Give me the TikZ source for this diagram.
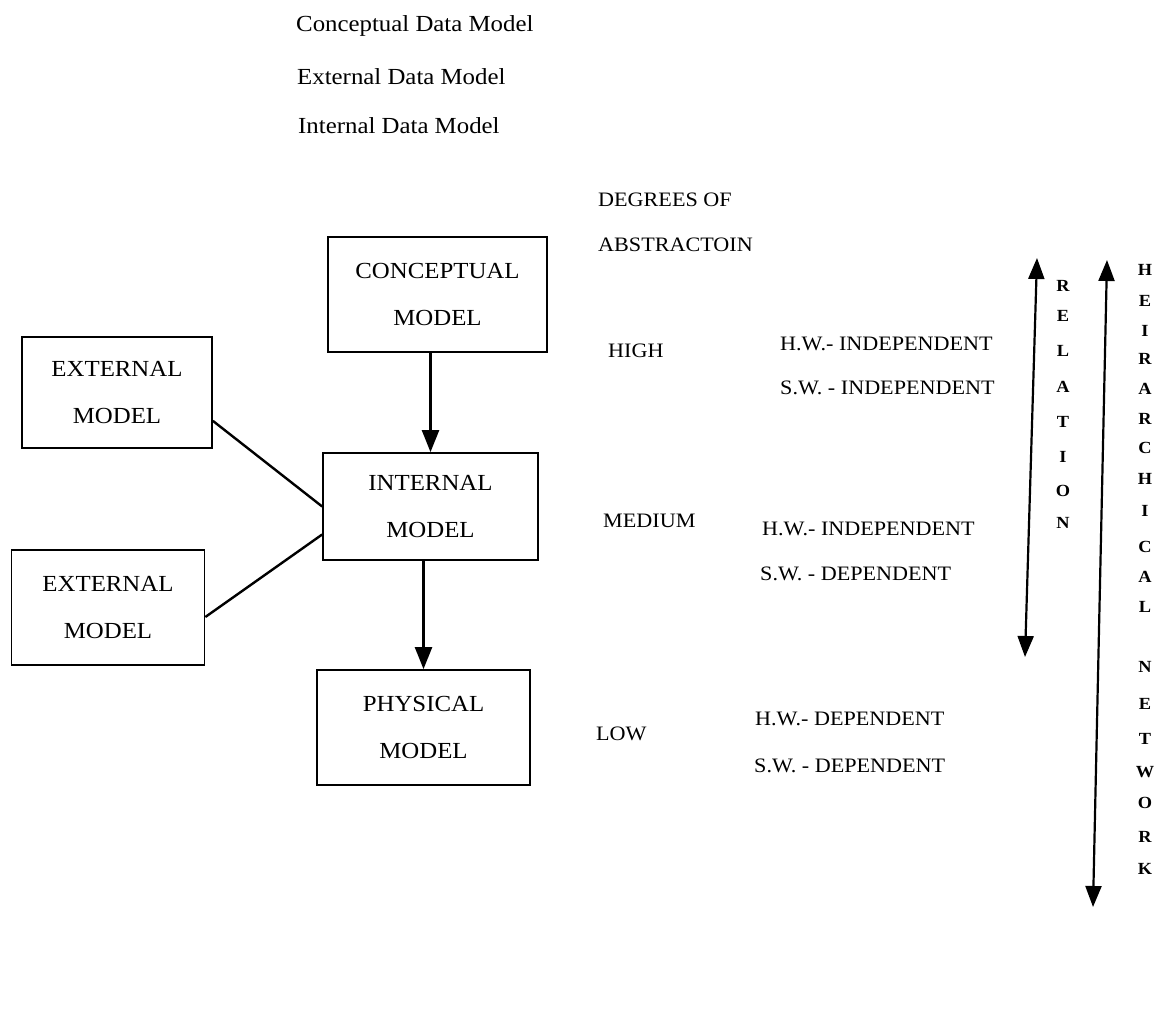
\documentclass[tikz,border=0pt]{standalone}
\usepackage{fontspec}
\setmainfont{Liberation Serif}[FakeStretch=1.08]
\usetikzlibrary{arrows.meta}
\begin{document}
\begin{tikzpicture}[x=1pt,y=-1pt,
  modelbox/.style={draw, line width=1.7pt, inner sep=0pt, align=center,
    font=\fontsize{23}{47}\selectfont},
  hdr/.style={anchor=base west, inner sep=0pt, font=\fontsize{23}{27}\selectfont},
  lbl/.style={anchor=base west, inner sep=0pt, font=\fontsize{20.5}{24}\selectfont},
  letter/.style={anchor=base, inner sep=0pt, font=\fontsize{17}{19}\selectfont\bfseries},
  conn/.style={line width=2.4pt},
  arr/.style={line width=2.2pt, -{Triangle[width=17pt,length=22pt]}},
  dbl/.style={line width=2.2pt, {Triangle[width=16pt,length=21pt]}-{Triangle[width=16pt,length=21pt]}}]
\useasboundingbox (0,0) rectangle (1159,1016);

% header lines
\node[hdr] (h1) at (296,32) {Conceptual Data Model};
\node[hdr] (h2) at (297,85) {External Data Model};
\node[hdr] (h3) at (298,134) {Internal Data Model};

% boxes
\node[modelbox, minimum width=219pt, minimum height=115pt] (conc) at (437.5,294.5) {CONCEPTUAL\\MODEL};
\node[modelbox, minimum width=215pt, minimum height=107pt] (int) at (430.5,506.5) {INTERNAL\\MODEL};
\node[modelbox, minimum width=190pt, minimum height=111pt] (e1) at (117,392.5) {EXTERNAL\\MODEL};
\node[modelbox, minimum width=193pt, minimum height=115pt] (e2) at (108,607.5) {EXTERNAL\\MODEL};
\node[modelbox, minimum width=213pt, minimum height=115pt] (phys) at (423.5,727.5) {PHYSICAL\\MODEL};

% connectors
\draw[arr] (int.north |- conc.south) -- (int.north);
\draw[arr] (phys.north |- int.south) -- (phys.north);
\draw[conn] ([yshift=28pt]e1.south east) -- (int.west);
\draw[conn] ([yshift=-9.5pt]e2.east) -- ([yshift=-28pt]int.west);

% right texts
\node[lbl] (d1) at (598,207) {DEGREES OF};
\node[lbl] (d2) at (598,252) {ABSTRACTOIN};
\node[lbl] (hi) at (608,357) {HIGH};
\node[lbl] (hi1) at (780,350) {H.W.- INDEPENDENT};
\node[lbl] (hi2) at (780,394) {S.W. - INDEPENDENT};
\node[lbl] (me) at (603,527) {MEDIUM};
\node[lbl] (me1) at (762,535) {H.W.- INDEPENDENT};
\node[lbl] (me2) at (760,580) {S.W. - DEPENDENT};
\node[lbl] (lo) at (596,740) {LOW};
\node[lbl] (lo1) at (755,725) {H.W.- DEPENDENT};
\node[lbl] (lo2) at (754,772) {S.W. - DEPENDENT};

% vertical arrows
\coordinate (rtop) at (1037,258);
\coordinate (rbot) at (1025,657);
\coordinate (htop) at (1107,260);
\coordinate (hbot) at (1093,907);
\draw[dbl] (rbot) -- (rtop);
\draw[dbl] (hbot) -- (htop);

% RELATION letters
\foreach \ch/\yy [count=\i] in {R/292,E/322,L/356,A/392,T/427,I/462,O/496,N/528}
  \node[letter] (rl\i) at (1063,\yy) {\ch};
% HEIRARCHICAL NETWORK letters
\foreach \ch/\yy [count=\i] in {H/276,E/306,I/336,R/364,A/394,R/424,C/453,H/484,I/516,C/552,A/582,L/612,N/672,E/709,T/744,W/777,O/808,R/842,K/874}
  \node[letter] (hl\i) at (1145,\yy) {\ch};
\end{tikzpicture}
\end{document}
